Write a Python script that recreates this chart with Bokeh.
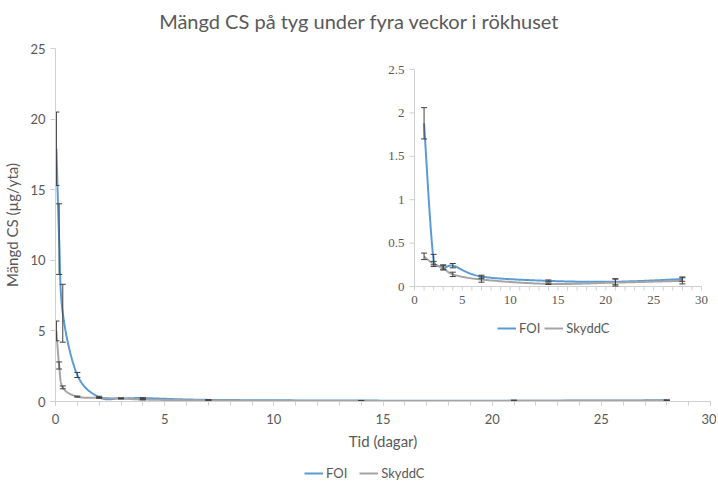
import numpy as np
from bokeh.plotting import figure
from bokeh.layouts import column
from bokeh.models import (Range1d, FixedTicker, Legend, LegendItem,
                          ColumnDataSource, LabelSet, Label)
from bokeh.embed import file_html
from bokeh.resources import INLINE

# ---------------- data ----------------
title_text = "Mängd CS på tyg under fyra veckor i rökhuset"
x_label = "Tid (dagar)"
y_label = "Mängd CS (µg/yta)"
series_names = ["FOI", "SkyddC"]

time_days = [1 / 24, 4 / 24, 8 / 24, 1, 2, 3, 4, 7, 14, 21, 28]

foi = [17.9, 11.5, 6.25, 1.88, 0.30, 0.22, 0.24, 0.115, 0.065, 0.055, 0.085]
foi_lo = [15.3, 9.0, 4.2, 1.70, 0.25, 0.20, 0.215, 0.09, 0.055, 0.02, 0.06]
foi_hi = [20.5, 14.0, 8.3, 2.06, 0.37, 0.25, 0.265, 0.13, 0.075, 0.09, 0.11]

skyddc = [5.0, 2.55, 1.0, 0.345, 0.26, 0.215, 0.14, 0.08, 0.03, 0.045, 0.065]
sky_lo = [4.3, 2.3, 0.9, 0.31, 0.23, 0.19, 0.115, 0.05, 0.023, 0.005, 0.03]
sky_hi = [5.7, 2.8, 1.1, 0.385, 0.29, 0.24, 0.165, 0.11, 0.04, 0.085, 0.10]

inset_first_index = 3  # inset shows day 1 onwards

main_x_ticks = [0, 5, 10, 15, 20, 25, 30]
main_x_minor = list(range(0, 31))
main_y_ticks = [0, 5, 10, 15, 20, 25]

inset_x_ticks = [0, 5, 10, 15, 20, 25, 30]
inset_x_labels = ["0", "5", "10", "15", "20", "25", "30"]
inset_x_minor = list(range(0, 31))
inset_y_ticks = [0, 0.5, 1, 1.5, 2, 2.5]
inset_y_labels = ["0", "0.5", "1", "1.5", "2", "2.5"]

# ---------------- style ----------------
BLUE = "#5B9BD5"
GREY = "#A5A5A5"
ERR = "#404040"
AXIS = "#D0D0D0"
TXT = "#595959"
FONT = "Lato"

W = 716
H_TITLE, H_MAIN, H_LEG = 36, 419, 26
# layout in page pixels (layout sits at the page's top-left corner)
FRAME_L, FRAME_R, FRAME_T, FRAME_B = 55, 710, 48, 401
IN_L, IN_R, IN_T, IN_B = 414, 701, 69, 286
IN_XMAX, IN_YMAX = 30.0, 2.5
TITLE_CX, TITLE_CY = 359, 20


def smooth(xs, ys, sx, sy, n=40):
    """Excel-like smoothed line (cubic Bezier, Catmull-Rom control points,
    handle length limited) computed in pixel space."""
    P = np.column_stack([np.asarray(xs, float) * sx, np.asarray(ys, float) * sy])
    parts = []
    for i in range(len(P) - 1):
        p0 = P[i - 1] if i > 0 else P[i]
        p1, p2 = P[i], P[i + 1]
        p3 = P[i + 2] if i + 2 < len(P) else P[i + 1]
        L = np.hypot(*(p2 - p1))
        d1 = (p2 - p0) / 6.0
        d2 = (p3 - p1) / 6.0
        for d in (d1, d2):
            ln = np.hypot(*d)
            if ln > 0.5 * L:
                d *= 0.5 * L / ln
        c1 = p1 + d1
        c2 = p2 - d2
        t = np.linspace(0, 1, n)[:, None]
        B = ((1 - t) ** 3) * p1 + 3 * ((1 - t) ** 2) * t * c1 \
            + 3 * (1 - t) * t ** 2 * c2 + (t ** 3) * p2
        parts.append(B if i == 0 else B[1:])
    B = np.vstack(parts)
    return B[:, 0] / sx, B[:, 1] / sy


def strip(height):
    f = figure(width=W, height=height, output_backend="svg", toolbar_location=None,
               x_range=Range1d(0, 1), y_range=Range1d(0, 1),
               min_border_left=0, min_border_right=0, min_border_top=0,
               min_border_bottom=0)
    f.axis.visible = False
    f.grid.visible = False
    f.outline_line_color = None
    f.border_fill_color = "white"
    return f


# ---------------- title strip ----------------
t = strip(H_TITLE)
t.add_layout(Label(x=TITLE_CX - FRAME_L, y=H_TITLE - TITLE_CY, x_units="screen",
                   y_units="screen", text=title_text, text_align="center",
                   text_baseline="middle", text_font=FONT, text_font_size="20px",
                   text_color=TXT))

# ---------------- main chart ----------------
p = figure(width=W, height=H_MAIN, output_backend="svg", toolbar_location=None,
           x_range=Range1d(0, 30), y_range=Range1d(0, 25),
           min_border_left=FRAME_L, min_border_right=W - FRAME_R,
           min_border_top=FRAME_T - H_TITLE,
           min_border_bottom=H_TITLE + H_MAIN - FRAME_B)
p.outline_line_color = None
p.grid.visible = False
p.background_fill_color = "white"
p.border_fill_color = "white"

for ax in (p.xaxis[0], p.yaxis[0]):
    ax.axis_line_color = AXIS
    ax.major_tick_line_color = AXIS
    ax.minor_tick_line_color = AXIS
    ax.major_tick_in = 0
    ax.minor_tick_in = 0
    ax.major_label_text_font = FONT
    ax.major_label_text_font_size = "13px"
    ax.major_label_text_color = TXT
    ax.axis_label_text_font = FONT
    ax.axis_label_text_font_size = "15px"
    ax.axis_label_text_font_style = "normal"
    ax.axis_label_text_color = TXT

p.xaxis.ticker = FixedTicker(ticks=main_x_ticks, minor_ticks=main_x_minor)
p.xaxis.major_tick_out = 4
p.xaxis.minor_tick_out = 4
p.xaxis.major_label_standoff = 8
p.xaxis.axis_label = x_label
p.xaxis.axis_label_standoff = 5

p.yaxis.ticker = FixedTicker(ticks=main_y_ticks)
p.yaxis.major_tick_out = 5
p.yaxis.minor_tick_out = 0
p.yaxis.major_label_standoff = 5
p.yaxis.axis_label = y_label
p.yaxis.axis_label_standoff = 6

# pixel scales
fw, fh = FRAME_R - FRAME_L, FRAME_B - FRAME_T
msx, msy = fw / 30.0, fh / 25.0

# ---------------- main series ----------------
for ys, col in ((foi, BLUE), (skyddc, GREY)):
    sx_, sy_ = smooth(time_days, ys, msx, msy)
    p.line(sx_, sy_, line_color=col, line_width=2)

for lo, hi in ((foi_lo, foi_hi), (sky_lo, sky_hi)):
    p.segment(x0=time_days, y0=lo, x1=time_days, y1=hi, line_color=ERR, line_width=1)
    p.scatter(x=time_days + time_days, y=lo + hi, marker="dash", size=6,
              line_color=ERR, line_width=1)

# ---------------- inset (extra ranges) ----------------
isx = (IN_R - IN_L) / IN_XMAX
isy = (IN_B - IN_T) / IN_YMAX
ix0 = (FRAME_L - IN_L) / isx
ix1 = (FRAME_R - IN_L) / isx
iy0 = (IN_B - FRAME_B) / isy
iy1 = (IN_B - FRAME_T) / isy
p.extra_x_ranges = {"ix": Range1d(ix0, ix1)}
p.extra_y_ranges = {"iy": Range1d(iy0, iy1)}
kw = dict(x_range_name="ix", y_range_name="iy")

# inset axes
p.segment(x0=[0, 0], y0=[0, 0], x1=[IN_XMAX, 0], y1=[0, IN_YMAX],
          line_color=AXIS, line_width=1, **kw)
p.segment(x0=inset_x_minor, y0=[0] * len(inset_x_minor), x1=inset_x_minor,
          y1=[-4 / isy] * len(inset_x_minor), line_color=AXIS, line_width=1, **kw)
p.segment(x0=[0] * len(inset_y_ticks), y0=inset_y_ticks,
          x1=[-5 / isx] * len(inset_y_ticks), y1=inset_y_ticks,
          line_color=AXIS, line_width=1, **kw)

xl_src = ColumnDataSource(dict(x=inset_x_ticks, y=[0] * len(inset_x_ticks), t=inset_x_labels))
yl_src = ColumnDataSource(dict(x=[0] * len(inset_y_ticks), y=inset_y_ticks, t=inset_y_labels))
p.add_layout(LabelSet(x="x", y="y", text="t", source=xl_src, y_offset=-9,
                      text_align="center", text_baseline="top", text_font=FONT,
                      text_font_size="13px", text_color=TXT, **kw))
p.add_layout(LabelSet(x="x", y="y", text="t", source=yl_src, x_offset=-10,
                      text_align="right", text_baseline="middle", text_font=FONT,
                      text_font_size="13px", text_color=TXT, **kw))

it = time_days[inset_first_index:]
inset_r = []
for ys, col in ((foi, BLUE), (skyddc, GREY)):
    sx_, sy_ = smooth(it, ys[inset_first_index:], isx, isy)
    r = p.line(sx_, sy_, line_color=col, line_width=2, **kw)
    inset_r.append(r)

for lo, hi in ((foi_lo, foi_hi), (sky_lo, sky_hi)):
    lo_i, hi_i = lo[inset_first_index:], hi[inset_first_index:]
    p.segment(x0=it, y0=lo_i, x1=it, y1=hi_i, line_color=ERR, line_width=1, **kw)
    p.scatter(x=it + it, y=lo_i + hi_i, marker="dash", size=6,
              line_color=ERR, line_width=1, **kw)

# ---------------- legends ----------------
leg_common = dict(orientation="horizontal", glyph_width=19, glyph_height=14,
                  label_standoff=3, padding=0, margin=0, border_line_color=None,
                  background_fill_alpha=0, inactive_fill_alpha=0,
                  label_text_font=FONT, label_text_font_size="13px",
                  label_text_color=TXT)

leg2 = Legend(items=[LegendItem(label=series_names[0], renderers=[inset_r[0]]),
                     LegendItem(label=series_names[1], renderers=[inset_r[1]])],
              location=(IN_L + 83 - FRAME_L, FRAME_B - 336), spacing=4, **leg_common)
p.add_layout(leg2, "center")

# bottom legend strip (its frame is aligned with the main frame by the column)
q = strip(H_LEG)
q_r = [q.line(x=time_days, y=ys, line_color=col, line_width=2, visible=False)
       for ys, col in ((foi, BLUE), (skyddc, GREY))]
leg = Legend(items=[LegendItem(label=series_names[0], renderers=[q_r[0]]),
                    LegendItem(label=series_names[1], renderers=[q_r[1]])],
             location=(304 - FRAME_L, 0), spacing=12, **leg_common)
q.add_layout(leg, "center")

layout = column(t, p, q, spacing=0)
open("out.html", "w").write(file_html(layout, INLINE))
